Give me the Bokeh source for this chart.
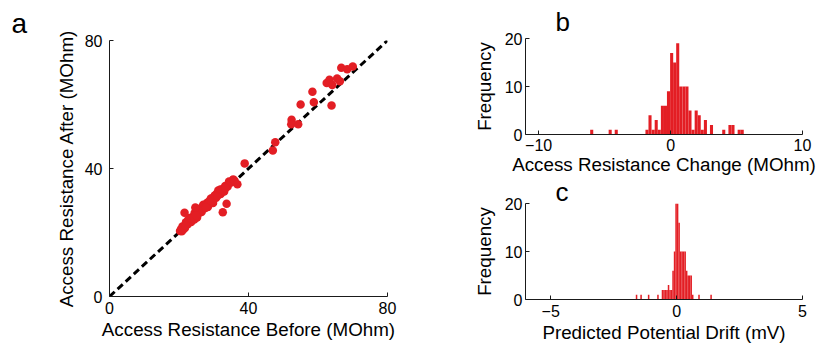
from bokeh.plotting import figure
from bokeh.layouts import row, column
from bokeh.models import Range1d, FixedTicker
from bokeh.embed import file_html
from bokeh.resources import INLINE

RED = "#E31E24"
FONT = "Liberation Sans"

# ---- panel a: access resistance before vs after (MOhm)
before = [
    20.3, 20.8, 21.0, 21.4, 21.7, 22.0, 22.3, 22.5, 22.8, 23.0,
    23.3, 23.5, 23.8, 24.0, 24.2, 24.5, 24.7, 25.0, 25.2, 25.4,
    25.6, 25.9, 26.1, 26.3, 26.5, 26.8, 27.0, 27.2, 27.4, 27.6,
    27.9, 28.1, 28.3, 28.5, 28.7, 29.0, 29.2, 29.4, 29.6, 29.8,
    30.0, 30.2, 30.5, 30.7, 30.9, 31.1, 31.3, 31.6, 31.8, 32.0,
    32.3, 32.5, 32.8, 33.0, 33.3, 33.6, 34.0, 34.4, 35.0, 35.6,
    21.2, 22.6, 23.6, 24.4, 25.3, 26.0, 26.7, 27.5, 28.0, 28.9,
    29.5, 30.3, 31.0, 31.9, 32.6, 33.4, 20.6, 21.9, 24.9, 27.8,
    66.7, 68.4, 70.0, 63.3, 62.5, 64.1, 65.5, 66.3, 58.4, 58.8,
    55.0, 63.9, 52.4, 52.3, 54.3, 47.7, 47.0, 38.9, 36.0, 36.8,
    33.7, 32.6, 21.6, 24.7]
after = [
    20.5, 20.4, 21.9, 21.9, 21.4, 23.2, 22.9, 22.6, 23.6, 24.5,
    23.6, 23.3, 24.8, 24.4, 24.9, 26.1, 24.9, 25.9, 24.7, 26.5,
    26.1, 26.2, 27.4, 26.9, 26.4, 27.6, 28.7, 27.6, 27.6, 28.6,
    28.5, 29.3, 28.0, 29.0, 29.6, 29.1, 30.6, 30.1, 29.9, 29.2,
    31.0, 30.7, 31.3, 30.9, 32.2, 31.7, 33.1, 32.0, 32.7, 32.0,
    33.4, 33.0, 33.5, 32.8, 34.5, 34.4, 34.4, 35.9, 35.6, 36.6,
    20.9, 23.8, 24.3, 24.1, 26.2, 26.5, 28.0, 28.2, 28.4, 30.0,
    29.7, 31.6, 31.4, 33.4, 33.2, 33.9, 21.0, 22.1, 25.4, 27.9,
    71.5, 71.0, 71.9, 67.7, 66.7, 66.1, 68.1, 67.3, 64.0, 60.7,
    60.0, 59.7, 55.2, 53.8, 53.8, 48.2, 45.6, 41.6, 36.2, 35.1,
    29.0, 26.3, 26.2, 27.8]
identity = [0, 80]
a_ticks = [0, 40, 80]

# ---- panel b: access resistance change histogram
change_centers = [-5.98, -4.58, -4.12, -1.79, -1.56, -1.32, -1.09, -0.86, -0.62, -0.39,
                  -0.16, 0.08, 0.31, 0.54, 0.77, 1.01, 1.24, 1.47, 1.70, 1.94,
                  2.17, 2.40, 2.64, 3.10, 4.03, 4.50, 4.73, 5.20, 5.43]
change_counts = [1, 1, 1, 1, 4, 1, 3, 1, 6, 6,
                 9, 17, 15, 19, 10, 10, 10, 5, 1, 5,
                 4, 1, 3, 2, 1, 2, 2, 1, 1]
CHANGE_BIN = 0.2328
b_xticks = [-10, 0, 10]
b_xlabels = ["\u221210", "0", "10"]

# ---- panel c: predicted potential drift histogram
drift_centers = [-1.59, -1.41, -1.11, -0.74, -0.56, -0.50, -0.44, -0.38, -0.32, -0.26,
                 -0.20, -0.14, -0.08, -0.02, 0.04, 0.10, 0.16, 0.22, 0.28, 0.34,
                 0.40, 0.46, 0.52, 0.58, 0.64, 0.89, 1.37]
drift_counts = [1, 1, 1, 1, 2, 2, 2, 2, 3, 2,
                2, 6, 10, 20, 20, 16, 10, 10, 10, 10,
                6, 5, 5, 5, 1, 1, 1]
DRIFT_BIN = 0.0604
c_xticks = [-5, 0, 5]
c_xlabels = ["\u22125", "0", "5"]
freq_ticks = [0, 10, 20]


def style(p, xticks, yticks, xlabels=None, xstand=(3, 2), ystand=(6, 5)):
    p.outline_line_color = None
    p.grid.visible = False
    p.background_fill_color = "white"
    p.border_fill_color = "white"
    for ax in (p.xaxis[0], p.yaxis[0]):
        ax.axis_line_color = "#1a1a1a"
        ax.axis_line_width = 1
        ax.major_tick_line_color = "#1a1a1a"
        ax.major_tick_in = 4
        ax.major_tick_out = 0
        ax.minor_tick_line_color = None
        ax.major_label_text_font = FONT
        ax.major_label_text_font_size = "16px"
        ax.major_label_text_color = "black"
        ax.axis_label_text_font = FONT
        ax.axis_label_text_font_size = "18.8px"
        ax.axis_label_text_font_style = "normal"
        ax.axis_label_text_color = "black"
    p.xaxis[0].ticker = FixedTicker(ticks=xticks)
    p.yaxis[0].ticker = FixedTicker(ticks=yticks)
    if xlabels is not None:
        p.xaxis[0].major_label_overrides = {t: s for t, s in zip(xticks, xlabels)}
    p.xaxis[0].major_label_standoff = xstand[0]
    p.xaxis[0].axis_label_standoff = xstand[1]
    p.yaxis[0].major_label_standoff = ystand[0]
    p.yaxis[0].axis_label_standoff = ystand[1]


def panel_letter(p, t, size, offset, standoff):
    p.title.text = t
    p.title.align = "left"
    p.title.offset = offset
    p.title.standoff = standoff
    p.title.text_font = FONT
    p.title.text_font_size = size
    p.title.text_font_style = "normal"
    p.title.text_color = "black"


# panel a
p1 = figure(width=470, height=347, x_range=Range1d(0, 80), y_range=Range1d(0, 80),
            output_backend="svg", toolbar_location=None,
            min_border_left=109, min_border_right=83, min_border_top=40, min_border_bottom=51)
p1.line(identity, identity, line_color="black", line_width=3, line_dash="7 4")
p1.scatter(before, after, size=8.5, fill_color=RED, line_color=None)
p1.xaxis.axis_label = "Access Resistance Before (MOhm)"
p1.yaxis.axis_label = "Access Resistance After (MOhm)"
style(p1, a_ticks, a_ticks, xstand=(5, 2), ystand=(7, 5))
panel_letter(p1, "a", "28px", -98, 4)

# panel b
p2 = figure(width=351, height=177, x_range=Range1d(-11, 10), y_range=Range1d(0, 20),
            output_backend="svg", toolbar_location=None,
            min_border_left=55, min_border_right=16, min_border_top=38, min_border_bottom=43)
p2.vbar(x=change_centers, top=change_counts, width=CHANGE_BIN, bottom=0,
        fill_color=RED, line_color=None)
p2.xaxis.axis_label = "Access Resistance Change (MOhm)"
p2.yaxis.axis_label = "Frequency"
style(p2, b_xticks, freq_ticks, b_xlabels, xstand=(4, 0), ystand=(3, 7))
panel_letter(p2, "b", "26px", 30, 4)

# panel c
p3 = figure(width=351, height=170, x_range=Range1d(-6, 5), y_range=Range1d(0, 20),
            output_backend="svg", toolbar_location=None,
            min_border_left=55, min_border_right=19, min_border_top=26, min_border_bottom=48)
p3.vbar(x=drift_centers, top=drift_counts, width=DRIFT_BIN, bottom=0,
        fill_color=RED, line_color=None)
p3.xaxis.axis_label = "Predicted Potential Drift (mV)"
p3.yaxis.axis_label = "Frequency"
style(p3, c_xticks, freq_ticks, c_xlabels, xstand=(5, 2), ystand=(3, 7))
panel_letter(p3, "c", "26px", 30, -6)

layout = row(p1, column(p2, p3))
open("out.html", "w").write(file_html(layout, INLINE))
